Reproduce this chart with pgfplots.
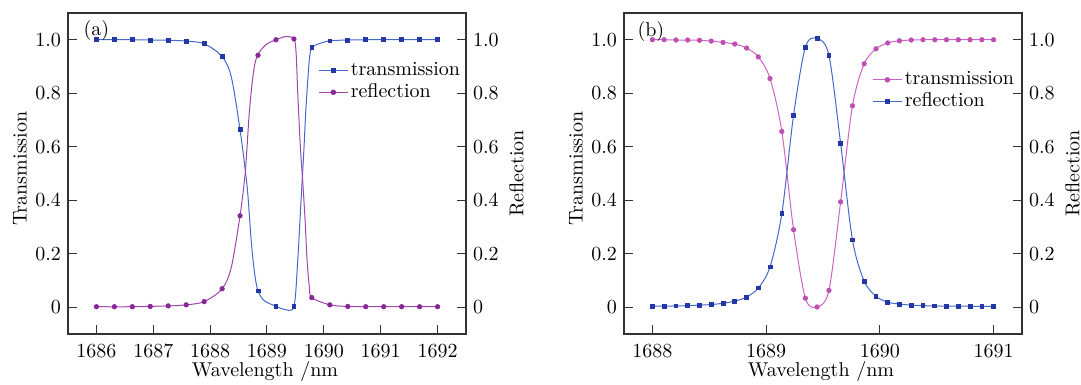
\documentclass[border=0pt]{standalone}
\usepackage{pgfplots}
\pgfplotsset{compat=1.18}
\definecolor{bline}{RGB}{70,105,200}
\definecolor{bmark}{RGB}{35,55,165}
\definecolor{pline}{RGB}{160,70,170}
\definecolor{pmark}{RGB}{135,40,150}
\definecolor{kline}{RGB}{205,100,195}
\definecolor{kmark}{RGB}{190,80,180}
\pgfplotsset{
  panel/.style={
    scale only axis, width=199pt, height=160.5pt,
    ymin=-0.1, ymax=1.1,
    tick align=inside, major tick length=4.5pt,
    axis line style={line width=0.8pt, black!80},
    every tick/.style={black!80, line width=0.5pt},
    ytick={0,0.2,0.4,0.6,0.8,1.0},
    yticklabels={0,0.2,0.4,0.6,0.8,1.0},
    /pgf/number format/set thousands separator={},
    xticklabel style={yshift=-2pt},
  },
  mainax/.style={panel,
    xtick pos=bottom, ytick pos=left,
    ylabel={Transmission},
    ylabel style={at={(axis description cs:-0.1206,0.515)}, anchor=center, rotate=0},
    xlabel={Wavelength /nm},
    xlabel style={at={(axis description cs:0.495,-0.131)}, anchor=base},
    legend style={draw=none, fill=none, row sep=0pt, nodes={inner sep=1.2pt},
      cells={anchor=west}},
    legend image code/.code={\draw[mark repeat=2,mark phase=2] plot coordinates {(0pt,0pt) (7.25pt,0pt) (14.5pt,0pt)};},
  },
  rightax/.style={panel,
    axis y line*=right, axis x line=none,
    ylabel={Reflection},
    ylabel style={at={(axis description cs:1.127,0.5)}, anchor=center, rotate=0},
  },
  tline/.style={smooth, no marks, line width=0.5pt},
}
\begin{document}
\begin{tikzpicture}
% ---------------- panel (a) ----------------
\begin{axis}[mainax, at={(0pt,0pt)}, anchor=south west,
  xmin=1685.5, xmax=1692.5, xtick={1686,1687,...,1692},
  legend style={at={(axis description cs:0.613,0.866)}, anchor=north west}]
% transmission line
\addplot[tline, bline, forget plot] coordinates {
(1686.000,1.000) (1686.632,1.000) (1687.263,0.998) (1687.579,0.995) (1687.895,0.985)
(1688.211,0.937) (1688.373,0.860) (1688.526,0.664) (1688.617,0.514) (1688.664,0.420)
(1688.722,0.250) (1688.780,0.130) (1688.842,0.061) (1688.955,0.024) (1689.158,0.004)
(1689.306,-0.008) (1689.474,0.003) (1689.541,0.176) (1689.599,0.400) (1689.647,0.580)
(1689.687,0.750) (1689.745,0.926) (1689.789,0.970) (1689.915,0.985) (1690.105,0.996)
(1690.421,0.999) (1690.737,1.000) (1692.000,1.000)};
% reflection line
\addplot[tline, pline, forget plot] coordinates {
(1686.000,0.002) (1686.632,0.002) (1687.263,0.005) (1687.579,0.009) (1687.895,0.021)
(1688.211,0.069) (1688.373,0.150) (1688.526,0.342) (1688.605,0.476) (1688.635,0.551)
(1688.693,0.739) (1688.769,0.889) (1688.842,0.945) (1688.985,0.982) (1689.158,1.000)
(1689.335,1.012) (1689.474,1.003) (1689.512,0.951) (1689.541,0.800) (1689.587,0.600)
(1689.629,0.470) (1689.669,0.330) (1689.705,0.176) (1689.745,0.076) (1689.789,0.036)
(1690.105,0.009) (1690.421,0.003) (1690.737,0.002) (1692.000,0.002)};
% markers
\addplot[only marks, mark=square*, mark size=0.95pt, bmark, forget plot] coordinates {
(1686.000,1.000) (1686.316,1.000) (1686.632,1.000) (1686.947,0.999) (1687.263,0.998)
(1687.579,0.995) (1687.895,0.985) (1688.211,0.937) (1688.526,0.664) (1688.842,0.061)
(1689.158,0.004) (1689.474,0.003) (1689.789,0.970) (1690.105,0.996) (1690.421,0.999)
(1690.737,1.000) (1691.053,1.000) (1691.368,1.000) (1691.684,1.000) (1692.000,1.000)};
\addplot[only marks, mark=*, mark size=1.1pt, pmark, forget plot] coordinates {
(1686.000,0.002) (1686.316,0.002) (1686.632,0.002) (1686.947,0.003) (1687.263,0.005)
(1687.579,0.009) (1687.895,0.021) (1688.211,0.069) (1688.526,0.342) (1688.842,0.942)
(1689.158,1.000) (1689.474,1.003) (1689.789,0.036) (1690.105,0.009) (1690.421,0.003)
(1690.737,0.002) (1691.053,0.002) (1691.368,0.002) (1691.684,0.002) (1692.000,0.002)};
\addlegendimage{bline, line width=0.5pt, mark=square*, mark size=0.95pt, mark options={bmark}}
\addlegendentry{transmission}
\addlegendimage{pline, line width=0.5pt, mark=*, mark size=1.1pt, mark options={pmark}}
\addlegendentry{reflection}
\node[anchor=north west, inner sep=0pt] at (axis description cs:0.038,0.978) {(a)};
\end{axis}
\begin{axis}[rightax, at={(0pt,0pt)}, anchor=south west, xmin=1685.5, xmax=1692.5]
\end{axis}
% ---------------- panel (b) ----------------
\begin{axis}[mainax, at={(278pt,0pt)}, anchor=south west,
  xmin=1687.75, xmax=1691.25, xtick={1688,1689,1690,1691},
  legend style={at={(axis description cs:0.608,0.838)}, anchor=north west}]
\addplot[tline, kline, forget plot] coordinates {
(1688.000,1.000) (1688.103,1.000) (1688.207,0.999) (1688.310,0.999) (1688.414,0.998)
(1688.517,0.995) (1688.621,0.990) (1688.724,0.984) (1688.828,0.969) (1688.931,0.936)
(1689.034,0.855) (1689.138,0.657) (1689.241,0.290) (1689.345,0.034) (1689.448,0.001)
(1689.552,0.063) (1689.655,0.394) (1689.759,0.753) (1689.862,0.910) (1689.966,0.966)
(1690.069,0.988) (1690.172,0.996) (1690.276,0.999) (1690.379,1.000) (1690.483,1.000)
(1690.586,1.000) (1690.690,1.000) (1690.793,1.000) (1690.897,1.000) (1691.000,1.000)};
\addplot[tline, bline, forget plot] coordinates {
(1688.000,0.004) (1688.103,0.004) (1688.207,0.005) (1688.310,0.006) (1688.414,0.008)
(1688.517,0.010) (1688.621,0.015) (1688.724,0.023) (1688.828,0.038) (1688.931,0.072)
(1689.034,0.151) (1689.138,0.350) (1689.241,0.717) (1689.345,0.972) (1689.448,1.005)
(1689.552,0.942) (1689.655,0.612) (1689.759,0.252) (1689.862,0.098) (1689.966,0.041)
(1690.069,0.019) (1690.172,0.012) (1690.276,0.008) (1690.379,0.006) (1690.483,0.005)
(1690.586,0.004) (1690.690,0.004) (1690.793,0.004) (1690.897,0.003) (1691.000,0.003)};
\addplot[only marks, mark=*, mark size=1.1pt, kmark, forget plot] coordinates {
(1688.000,1.000) (1688.103,1.000) (1688.207,0.999) (1688.310,0.999) (1688.414,0.998)
(1688.517,0.995) (1688.621,0.990) (1688.724,0.984) (1688.828,0.969) (1688.931,0.936)
(1689.034,0.855) (1689.138,0.657) (1689.241,0.290) (1689.345,0.034) (1689.448,0.001)
(1689.552,0.063) (1689.655,0.394) (1689.759,0.753) (1689.862,0.910) (1689.966,0.966)
(1690.069,0.988) (1690.172,0.996) (1690.276,0.999) (1690.379,1.000) (1690.483,1.000)
(1690.586,1.000) (1690.690,1.000) (1690.793,1.000) (1690.897,1.000) (1691.000,1.000)};
\addplot[only marks, mark=square*, mark size=0.95pt, bmark, forget plot] coordinates {
(1688.000,0.004) (1688.103,0.004) (1688.207,0.005) (1688.310,0.006) (1688.414,0.008)
(1688.517,0.010) (1688.621,0.015) (1688.724,0.023) (1688.828,0.038) (1688.931,0.072)
(1689.034,0.151) (1689.138,0.350) (1689.241,0.717) (1689.345,0.972) (1689.448,1.005)
(1689.552,0.942) (1689.655,0.612) (1689.759,0.252) (1689.862,0.098) (1689.966,0.041)
(1690.069,0.019) (1690.172,0.012) (1690.276,0.008) (1690.379,0.006) (1690.483,0.005)
(1690.586,0.004) (1690.690,0.004) (1690.793,0.004) (1690.897,0.003) (1691.000,0.003)};
\addlegendimage{kline, line width=0.5pt, mark=*, mark size=1.1pt, mark options={kmark}}
\addlegendentry{transmission}
\addlegendimage{bline, line width=0.5pt, mark=square*, mark size=0.95pt, mark options={bmark}}
\addlegendentry{reflection}
\node[anchor=north west, inner sep=0pt] at (axis description cs:0.033,0.975) {(b)};
\end{axis}
\begin{axis}[rightax, at={(278pt,0pt)}, anchor=south west, xmin=1687.75, xmax=1691.25]
\end{axis}
\pgfresetboundingbox
\path (-34pt,-25.5pt) rectangle (506.5pt,167pt);
\end{tikzpicture}
\end{document}
